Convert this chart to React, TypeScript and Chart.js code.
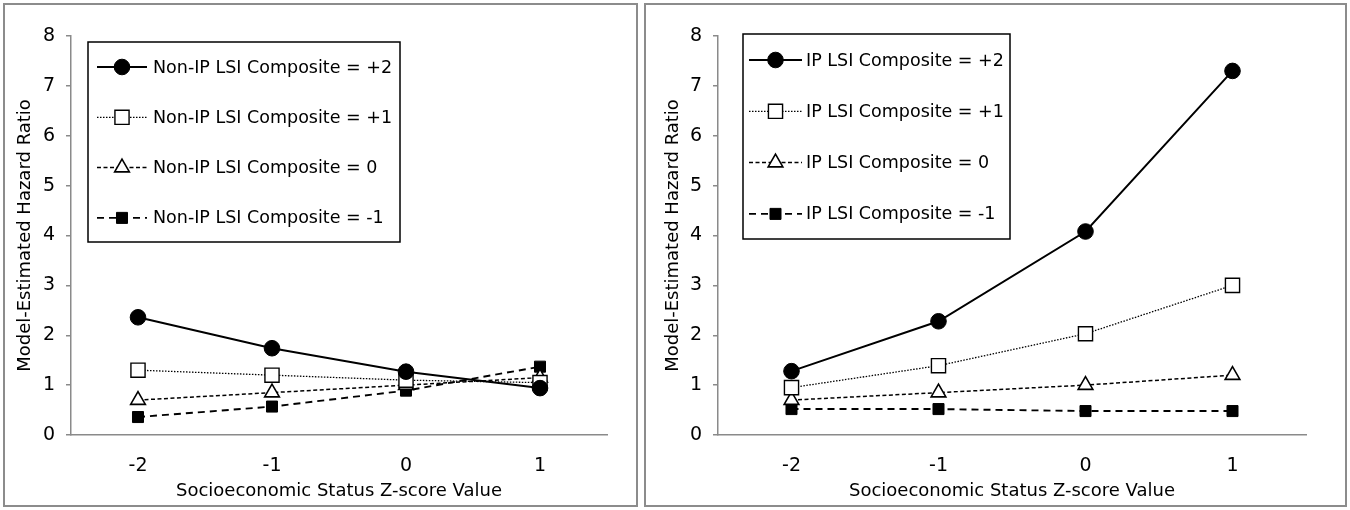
import { useEffect, useRef } from 'react';
import { Chart, registerables } from 'chart.js';
import { drawPoint } from 'chart.js/helpers';

Chart.register(...registerables);

// x categories (SES z-score)
const zScores = ['-2', '-1', '0', '1'];
const yMin = 0;
const yMax = 8;
const yStep = 1;

const xTitle = 'Socioeconomic Status Z-score Value';
const yTitle = 'Model-Estimated Hazard Ratio';

// left panel: Non-IP LSI composite
const nonIpLabels = [
  'Non-IP LSI Composite = +2',
  'Non-IP LSI Composite = +1',
  'Non-IP LSI Composite = 0',
  'Non-IP LSI Composite = -1',
];
const nonIpPlus2 = [2.36, 1.74, 1.27, 0.94];
const nonIpPlus1 = [1.3, 1.2, 1.1, 1.05];
const nonIpZero = [0.7, 0.85, 1.0, 1.15];
const nonIpMinus1 = [0.36, 0.57, 0.89, 1.37];

// right panel: IP LSI composite
const ipLabels = [
  'IP LSI Composite = +2',
  'IP LSI Composite = +1',
  'IP LSI Composite = 0',
  'IP LSI Composite = -1',
];
const ipPlus2 = [1.28, 2.28, 4.08, 7.3];
const ipPlus1 = [0.95, 1.39, 2.03, 3.0];
const ipZero = [0.7, 0.85, 1.0, 1.2];
const ipMinus1 = [0.52, 0.52, 0.48, 0.48];

const FONT = '"DejaVu Sans", "Liberation Sans", Arial, sans-serif';
const AXIS = '#8a8a8a';

// line / marker style per series (+2, +1, 0, -1)
const seriesStyles = [
  { borderWidth: 2, borderDash: [], pointStyle: 'circle', pointRadius: 7.8, fill: '#000', pointBorderWidth: 1 },
  { borderWidth: 1.3, borderDash: [1.5, 1.5], pointStyle: 'rect', pointRadius: 10, fill: '#fff', pointBorderWidth: 1.4 },
  { borderWidth: 1.5, borderDash: [4, 2.5], pointStyle: 'triangle', pointRadius: 8.5, fill: '#fff', pointBorderWidth: 1.6 },
  { borderWidth: 1.9, borderDash: [7, 5], pointStyle: 'rect', pointRadius: 7.8, fill: '#000', pointBorderWidth: 1 },
];

// legend drawn inside the plot area with a border
const boxLegend = {
  id: 'boxLegend',
  afterDraw(chart: any, _args: any, opts: any) {
    const { ctx, chartArea } = chart;
    const x = chartArea.left + opts.dx;
    const y = chartArea.top + opts.dy;
    ctx.save();
    ctx.fillStyle = '#fff';
    ctx.fillRect(x, y, opts.w, opts.h);
    ctx.strokeStyle = '#000';
    ctx.lineWidth = 1.5;
    ctx.strokeRect(x, y, opts.w, opts.h);
    chart.data.datasets.forEach((ds: any, i: number) => {
      const ry = y + opts.firstRow + i * opts.rowGap;
      const x0 = x + opts.lineX0;
      const x1 = x + opts.lineX1;
      ctx.strokeStyle = '#000';
      ctx.lineWidth = ds.borderWidth;
      ctx.setLineDash(ds.borderDash || []);
      ctx.beginPath();
      ctx.moveTo(x0, ry);
      ctx.lineTo(x1, ry);
      ctx.stroke();
      ctx.setLineDash([]);
      ctx.fillStyle = ds.pointBackgroundColor;
      ctx.lineWidth = ds.pointBorderWidth;
      drawPoint(ctx, { pointStyle: ds.pointStyle, radius: ds.pointRadius, borderWidth: ds.pointBorderWidth, rotation: 0 } as any, (x0 + x1) / 2, ry);
      ctx.fillStyle = '#000';
      ctx.font = `17.5px ${FONT}`;
      ctx.textAlign = 'left';
      ctx.textBaseline = 'middle';
      ctx.fillText(ds.label, x + opts.textX, ry + 1);
    });
    ctx.restore();
  },
};

interface PanelProps {
  labels: string[];
  series: number[][];
  width: number;
  height: number;
  padLeft: number;
  padRight: number;
  titlePad: number;
  legend: Record<string, number>;
}

const Panel: React.FC<PanelProps> = ({ labels, series, width, height, padLeft, padRight, titlePad, legend }) => {
  const canvasRef = useRef<HTMLCanvasElement>(null);

  useEffect(() => {
    if (!canvasRef.current) return;
    const chart = new Chart(canvasRef.current, {
      type: 'line',
      data: {
        labels: zScores,
        datasets: series.map((values, i) => {
          const s = seriesStyles[i];
          return {
            label: labels[i],
            data: values,
            borderColor: '#000',
            borderWidth: s.borderWidth,
            borderDash: s.borderDash,
            pointStyle: s.pointStyle as any,
            pointRadius: s.pointRadius,
            pointBackgroundColor: s.fill,
            pointBorderColor: '#000',
            pointBorderWidth: s.pointBorderWidth,
            fill: false,
            tension: 0,
          };
        }),
      },
      options: {
        responsive: false,
        animation: false,
        events: [],
        layout: { padding: { left: padLeft, right: padRight, top: 31, bottom: 0 } },
        plugins: {
          legend: { display: false },
          tooltip: { enabled: false },
          boxLegend: legend,
        } as any,
        scales: {
          x: {
            type: 'category',
            offset: true,
            grid: { display: false, drawTicks: false },
            border: { display: true, color: AXIS, width: 1.5 },
            ticks: { color: '#000', font: { family: FONT, size: 19 }, padding: 20 },
            title: { display: true, text: xTitle, color: '#000', font: { family: FONT, size: 18 }, padding: { top: 0, bottom: 3 } },
            afterFit: (scale: any) => {
              scale.height = 70;
            },
          },
          y: {
            min: yMin,
            max: yMax,
            ticks: { stepSize: yStep, color: '#000', font: { family: FONT, size: 19 }, padding: 11 },
            grid: { drawOnChartArea: false, drawTicks: true, tickLength: 5, color: AXIS, lineWidth: 1.5 },
            border: { display: true, color: AXIS, width: 1.5 },
            title: { display: true, text: yTitle, color: '#000', font: { family: FONT, size: 18 }, padding: { top: titlePad, bottom: 0 } },
            afterFit: (scale: any) => {
              scale.width = 66;
            },
          },
        },
      },
      plugins: [boxLegend],
    });
    return () => chart.destroy();
  }, [labels, series, width, height, padLeft, padRight, titlePad, legend]);

  return <canvas ref={canvasRef} width={width} height={height} style={{ width, height, display: 'block' }} />;
};

const leftSeries = [nonIpPlus2, nonIpPlus1, nonIpZero, nonIpMinus1];
const rightSeries = [ipPlus2, ipPlus1, ipZero, ipMinus1];
const leftLegend = { dx: 17, dy: 6, w: 312, h: 200, firstRow: 25, rowGap: 50.3, lineX0: 9, lineX1: 59, textX: 65 };
const rightLegend = { dx: 25, dy: -2, w: 267, h: 205, firstRow: 26, rowGap: 51.3, lineX0: 6, lineX1: 59, textX: 63 };

const panelStyle: React.CSSProperties = {
  position: 'absolute',
  top: 3,
  height: 504,
  border: '2px solid #8c8c8c',
  boxSizing: 'border-box',
  background: '#fff',
};

export default function App() {
  return (
    <div style={{ position: 'absolute', left: 0, top: 0, width: 1350, height: 510, background: '#fff' }}>
      <div style={{ ...panelStyle, left: 3, width: 635 }}>
        <Panel labels={nonIpLabels} series={leftSeries} width={631} height={500} padLeft={0} padRight={29} titlePad={10} legend={leftLegend} />
      </div>
      <div style={{ ...panelStyle, left: 644, width: 703 }}>
        <Panel labels={ipLabels} series={rightSeries} width={699} height={500} padLeft={6} padRight={39} titlePad={11} legend={rightLegend} />
      </div>
    </div>
  );
}
